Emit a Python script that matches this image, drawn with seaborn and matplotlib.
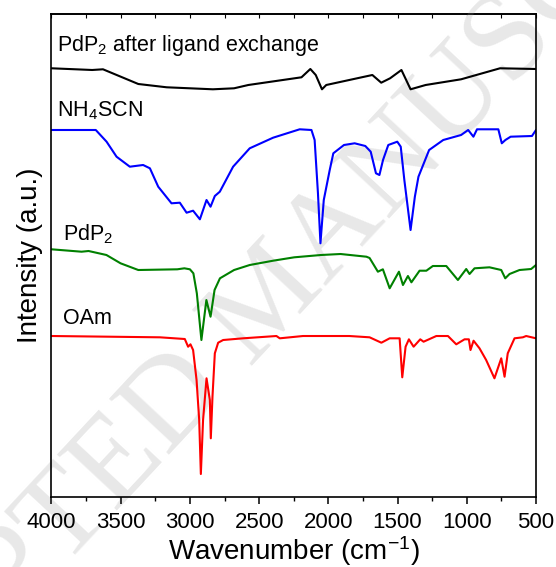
import numpy as np
import pandas as pd
import matplotlib
matplotlib.use("Agg")
import matplotlib.pyplot as plt
import seaborn as sns

# wavenumber (cm-1) and stacked intensity (a.u., already offset)
ligand_wn = [4000, 3706, 3628, 3373, 3168, 2834, 2681, 2578, 2194, 2130, 2091, 2046,
             2015, 1759, 1682, 1618, 1554, 1472, 1406, 1297, 1041, 760, 500]
ligand_int = [4.282, 4.265, 4.272, 4.125, 4.092, 4.072, 4.082, 4.115, 4.192, 4.275, 4.215, 4.072,
              4.115, 4.192, 4.215, 4.138, 4.182, 4.265, 4.072, 4.115, 4.172, 4.282, 4.275]

scn_wn = [4000, 3680, 3602, 3530, 3434, 3338, 3289, 3229, 3133, 3073, 3024, 2977,
          2928, 2880, 2851, 2820, 2784, 2688, 2568, 2399, 2207, 2122, 2099, 2075,
          2057, 2033, 1990, 1964, 1887, 1810, 1733, 1694, 1656, 1631, 1605, 1567,
          1502, 1477, 1451, 1406, 1375, 1349, 1272, 1170, 1041, 990, 952, 926,
          772, 747, 721, 683, 529, 500]
scn_int = [3.665, 3.665, 3.548, 3.398, 3.298, 3.315, 3.282, 3.098, 2.932, 2.938, 2.838, 2.858,
           2.772, 2.965, 2.898, 3.005, 3.048, 3.298, 3.482, 3.588, 3.672, 3.665, 3.565, 3.032,
           2.532, 2.965, 3.265, 3.432, 3.515, 3.532, 3.505, 3.448, 3.232, 3.215, 3.365, 3.515,
           3.548, 3.498, 3.165, 2.665, 2.998, 3.198, 3.465, 3.565, 3.615, 3.665, 3.598, 3.672,
           3.672, 3.532, 3.565, 3.598, 3.605, 3.665]

pdp2_wn = [4000, 3783, 3732, 3603, 3501, 3373, 3091, 3040, 3000, 2975, 2950, 2917,
           2881, 2851, 2822, 2783, 2681, 2568, 2399, 2246, 2053, 1912, 1725, 1702,
           1642, 1606, 1557, 1490, 1461, 1425, 1400, 1341, 1292, 1245, 1148, 1064,
           1004, 980, 944, 836, 751, 722, 691, 619, 535, 500]
pdp2_int = [2.472, 2.448, 2.455, 2.415, 2.332, 2.265, 2.272, 2.282, 2.272, 2.232, 2.032, 1.565,
            1.965, 1.798, 2.065, 2.182, 2.265, 2.315, 2.358, 2.392, 2.415, 2.425, 2.398, 2.385,
            2.248, 2.272, 2.082, 2.248, 2.115, 2.205, 2.142, 2.258, 2.258, 2.305, 2.305, 2.165,
            2.275, 2.225, 2.282, 2.292, 2.265, 2.182, 2.225, 2.265, 2.275, 2.315]

oam_wn = [4000, 3217, 3037, 3013, 2996, 2977, 2952, 2933, 2921, 2905, 2880, 2856,
          2849, 2837, 2820, 2796, 2760, 2616, 2375, 2351, 2183, 1849, 1702, 1617,
          1557, 1485, 1466, 1442, 1418, 1384, 1336, 1312, 1220, 1136, 1076, 1016,
          985, 973, 951, 908, 860, 800, 751, 727, 704, 655, 595, 571, 500]
oam_int = [1.605, 1.592, 1.575, 1.498, 1.522, 1.465, 1.165, 0.765, 0.225, 0.765, 1.182, 0.965,
           0.582, 0.998, 1.432, 1.538, 1.565, 1.582, 1.605, 1.582, 1.605, 1.605, 1.592, 1.538,
           1.582, 1.582, 1.192, 1.498, 1.572, 1.498, 1.572, 1.548, 1.605, 1.605, 1.522, 1.572,
           1.572, 1.465, 1.558, 1.482, 1.365, 1.182, 1.382, 1.198, 1.432, 1.582, 1.592, 1.605, 1.582]

names = ["PdP$_2$ after ligand exchange", "NH$_4$SCN", "PdP$_2$", "OAm"]
colors = ["black", "#0000ff", "#008000", "#ff0000"]
label_pos = [(3960, 4.51), (3960, 3.86), (3920, 2.62), (3920, 1.78)]

sns.set_style("ticks")
plt.rcParams["font.family"] = ["Liberation Sans", "DejaVu Sans"]
plt.rcParams["mathtext.fontset"] = "custom"
plt.rcParams["mathtext.rm"] = "Liberation Sans"
plt.rcParams["mathtext.it"] = "Liberation Sans:italic"
plt.rcParams["mathtext.bf"] = "Liberation Sans:bold"
plt.rcParams["text.color"] = "black"
plt.rcParams["axes.labelcolor"] = "black"
plt.rcParams["axes.edgecolor"] = "black"
plt.rcParams["xtick.color"] = "black"
plt.rcParams["ytick.color"] = "black"

fig = plt.figure(figsize=(5.56, 5.67), dpi=100)
ax = fig.add_axes([0.0926, 0.1243, 0.8714, 0.8505])

# faint watermark behind the spectra
ax.text(0.49, 0.47, "ACCEPTED MANUSCRIPT", transform=fig.transFigure, fontsize=90,
        color="#e8e8e8", family="Liberation Serif", rotation=47,
        ha="center", va="center", zorder=0.5)

traces = [(ligand_wn, ligand_int), (scn_wn, scn_int), (pdp2_wn, pdp2_int), (oam_wn, oam_int)]
for (wn, val), c in zip(traces, colors):
    df = pd.DataFrame({"wn": wn, "val": val})
    sns.lineplot(data=df, x="wn", y="val", color=c, linewidth=1.5, ax=ax, errorbar=None)

for name, (x, y) in zip(names, label_pos):
    ax.text(x, y, name, fontsize=15.5, ha="left", va="center")

ax.set_xlim(4000, 500)
ax.set_ylim(0, 4.822)
ax.set_xticks(np.arange(500, 4001, 500))
ax.set_xticks(np.arange(500, 4001, 250), minor=True)
ax.set_yticks([])
ax.tick_params(axis="x", which="major", direction="out", length=5, width=1.1,
               labelsize=16, pad=6)
ax.tick_params(axis="x", which="minor", direction="out", length=3, width=1.0)
top = ax.secondary_xaxis("top")
top.set_xticks(np.arange(500, 4001, 250))
top.tick_params(direction="in", length=3, width=0.8, labeltop=False)
top.spines["top"].set_linewidth(1.2)
for s in ax.spines.values():
    s.set_linewidth(1.2)
    s.set_visible(True)

ax.set_xlabel("Wavenumber (cm$^{-1}$)", fontsize=20, labelpad=1)
ax.set_ylabel("Intensity (a.u.)", fontsize=20, labelpad=6)

fig.savefig("out.png", dpi=100)
